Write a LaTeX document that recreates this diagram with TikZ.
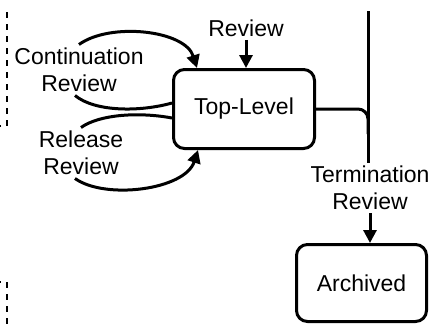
\documentclass[tikz,border=0pt]{standalone}
\usepackage{fontspec}
\setmainfont{Liberation Sans}
\usetikzlibrary{arrows.meta}

\begin{document}
\begin{tikzpicture}[x=1pt, y=-1pt, >={Triangle[length=13pt,width=13pt]},
  state/.style={draw, line width=3pt, rounded corners=11pt, inner sep=0pt},
  lbl/.style={align=center, font=\fontsize{23}{27}\selectfont},
  flow/.style={line width=3pt},
  edge/.style={line width=2.5pt, dash pattern=on 6pt off 6pt}]
\useasboundingbox (0,0) rectangle (431,324);
\clip (0,0) rectangle (431,324);
% dashed border of the neighbouring group
\draw[edge] (7,12)--(7,126)--(-5,126);
\draw[edge] (-5,282)--(7,282)--(7,330);

\node[state, minimum width=141pt, minimum height=79pt, lbl] (top) at (244,109) {Top-Level};
\node[state, minimum width=130pt, minimum height=77pt, lbl] (arch) at (361.5,283) {Archived};

\node[lbl] (rev) at (246,28) {Review};
\node[lbl] (cont) at (79,70) {Continuation\\Review};
\node[lbl] (rel) at (81,153) {Release\\Review};
\node[lbl] (term) at (370,188) {Termination\\Review};
\coordinate (bus) at (368,11);

\draw[flow,->] (rev.south) -- (rev.south |- top.north);
\draw[flow,->] (cont.north) .. controls (110,22) and (185,30) .. ([xshift=25pt]top.north west);
\draw[flow] ([xshift=-4pt]cont.south) .. controls (95,112) and (140,112) .. ([yshift=6pt]top.west);
\draw[flow] (rel.north) .. controls (100,114) and (140,112) .. ([yshift=-9pt]top.west);
\draw[flow,->] ([xshift=-6pt]rel.south) .. controls (105,200) and (185,190) .. ([xshift=26pt]top.south west);

% exit line down to the archive
\draw[flow] (bus) -- (bus |- term.north);
\draw[flow, rounded corners=10pt] (top.east) -- (top.east -| bus) -- ([yshift=-25pt]top.east -| bus);
\draw[flow,->] (term.south) -- (arch.north -| term.south);
\end{tikzpicture}
\end{document}
